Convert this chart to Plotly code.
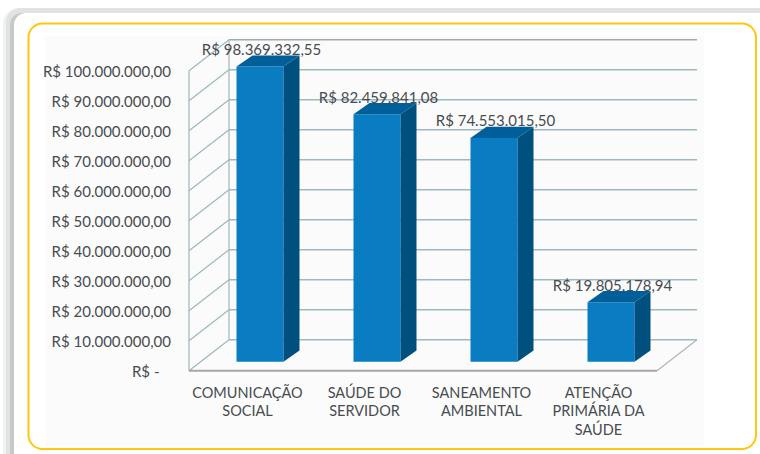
import plotly.graph_objects as go

categories = ["COMUNICAÇÃO<br>SOCIAL", "SAÚDE DO<br>SERVIDOR", "SANEAMENTO<br>AMBIENTAL", "ATENÇÃO<br>PRIMÁRIA DA<br>SAÚDE"]
values = [98369332.55, 82459841.08, 74553015.50, 19805178.94]
value_labels = ["R$ 98.369.332,55", "R$ 82.459.841,08", "R$ 74.553.015,50", "R$ 19.805.178,94"]
y_ticks = [0, 10e6, 20e6, 30e6, 40e6, 50e6, 60e6, 70e6, 80e6, 90e6, 100e6]
y_tick_labels = ["R$ -\u00a0\u00a0\u00a0", "R$ 10.000.000,00", "R$ 20.000.000,00", "R$ 30.000.000,00", "R$ 40.000.000,00",
                 "R$ 50.000.000,00", "R$ 60.000.000,00", "R$ 70.000.000,00", "R$ 80.000.000,00", "R$ 90.000.000,00",
                 "R$ 100.000.000,00"]

W, H = 760, 454
FONT = "Lato"
TEXT = "#484c4f"
# pixel geometry of the drawing box and pseudo-3D projection
PX_L, PX_R, PX_T, PX_B = 185.0, 700.0, 18.0, 375.0
X0_PX, SLOT_PX = 247.5, 117.0       # first category centre on the front plane; category spacing
Y0_PX, PX_PER_UNIT = 370.7, 3.0e-6  # zero on the front plane; pixels per R$


def dx(px):
    return px / SLOT_PX


def dy(px):
    return px / PX_PER_UNIT


x_range = [(PX_L - X0_PX) / SLOT_PX, (PX_R - X0_PX) / SLOT_PX]
y_range = [(Y0_PX - PX_B) / PX_PER_UNIT, (Y0_PX - PX_T) / PX_PER_UNIT]

WALL_X, WALL_Y = dx(40), dy(31)       # depth of the chart box
BAR_X, BAR_Y = dx(12.5), dy(9)        # bar's offset from the front plane
SIDE_X, SIDE_Y = dx(16), dy(11.2)     # bar's own depth
HALF = dx(23.5)                       # half of a bar's width
left = -0.5
right = len(categories) - 0.5


def rounded_shape(x0, y0, x1, y1, r, fill=None, line=None, lw=0):
    # a rounded rectangle expressed in pixel space, on paper-referenced sheets
    fx = lambda v: v / W
    fy = lambda v: 1 - v / H
    k = 0.45 * r
    path = (
        f"M{fx(x0 + r)},{fy(y0)} L{fx(x1 - r)},{fy(y0)} "
        f"C{fx(x1 - k)},{fy(y0)} {fx(x1)},{fy(y0 + k)} {fx(x1)},{fy(y0 + r)} "
        f"L{fx(x1)},{fy(y1 - r)} "
        f"C{fx(x1)},{fy(y1 - k)} {fx(x1 - k)},{fy(y1)} {fx(x1 - r)},{fy(y1)} "
        f"L{fx(x0 + r)},{fy(y1)} "
        f"C{fx(x0 + k)},{fy(y1)} {fx(x0)},{fy(y1 - k)} {fx(x0)},{fy(y1 - r)} "
        f"L{fx(x0)},{fy(y0 + r)} "
        f"C{fx(x0)},{fy(y0 + k)} {fx(x0 + k)},{fy(y0)} {fx(x0 + r)},{fy(y0)} Z"
    )
    return dict(type="path", xref="paper", yref="paper", path=path, layer="below",
                fillcolor=fill or "rgba(0,0,0,0)",
                line=dict(color=line or "rgba(0,0,0,0)", width=lw))


shapes = [
    rounded_shape(3, 9, 790, 470, 14, fill="#f0f1f1"),
    rounded_shape(6, 8, 790, 470, 14, fill="#e1e2e2"),
    rounded_shape(10, 13, 790, 470, 12, fill="#c6c8c9"),
    rounded_shape(14, 13, 790, 470, 12, fill="#ffffff"),
    rounded_shape(28.5, 23.5, 756, 449, 14, fill="#ffffff", line="#fdc80f", lw=2),
    dict(type="rect", xref="paper", yref="paper", x0=45 / W, x1=704 / W, y0=1 - 446 / H, y1=1 - 36 / H,
         layer="below", fillcolor="#fbfbfb", line=dict(width=0)),
]

GRID = "#9db8c0"
for t in y_ticks:
    # back wall and left wall lines for every tick
    shapes.append(dict(type="line", xref="x", yref="y", layer="below",
                       x0=left + WALL_X, x1=right + WALL_X, y0=t + WALL_Y, y1=t + WALL_Y,
                       line=dict(color="#a0a9ad" if t == y_ticks[-1] else GRID, width=1.4)))
    shapes.append(dict(type="line", xref="x", yref="y", layer="below",
                       x0=left, x1=left + WALL_X, y0=t, y1=t + WALL_Y,
                       line=dict(color=GRID, width=1.2)))
# left front edge, left back edge, floor
shapes += [
    dict(type="line", xref="x", yref="y", layer="below", x0=left, x1=left, y0=y_ticks[0], y1=y_ticks[-1],
         line=dict(color="#a3b5bb", width=1.2)),
    dict(type="line", xref="x", yref="y", layer="below", x0=left + WALL_X, x1=left + WALL_X,
         y0=y_ticks[0] + WALL_Y, y1=y_ticks[-1] + WALL_Y, line=dict(color="#a3b5bb", width=1.2)),
    dict(type="line", xref="x", yref="y", layer="below", x0=left, x1=right, y0=0, y1=0,
         line=dict(color="#a2a8aa", width=2)),
    dict(type="line", xref="x", yref="y", layer="below", x0=right, x1=right + WALL_X, y0=0, y1=WALL_Y,
         line=dict(color="#a8b8bc", width=1.2)),
]

idx = list(range(len(categories)))
fig = go.Figure()
# front faces
fig.add_trace(go.Bar(x=[i + BAR_X for i in idx], y=values, base=[BAR_Y] * len(values),
                     width=2 * HALF, marker=dict(color="#0a7cc1", line=dict(width=0)), hoverinfo="skip"))

side_x, side_y, top_x, top_y = [], [], [], []
for i, v in zip(idx, values):
    xr = i + BAR_X + HALF
    xl = i + BAR_X - HALF
    yb = BAR_Y
    yt = BAR_Y + v
    side_x += [xr, xr + SIDE_X, xr + SIDE_X, xr, xr, None]
    side_y += [yt, yt + SIDE_Y, yb + SIDE_Y, yb, yt, None]
    top_x += [xl, xl + SIDE_X, xr + SIDE_X, xr, xl, None]
    top_y += [yt, yt + SIDE_Y, yt + SIDE_Y, yt, yt, None]

fig.add_trace(go.Scatter(x=side_x, y=side_y, mode="lines", fill="toself", fillcolor="#00507f",
                         line=dict(width=0), hoverinfo="skip"))
fig.add_trace(go.Scatter(x=top_x, y=top_y, mode="lines", fill="toself", fillcolor="#005f99",
                         line=dict(width=0), hoverinfo="skip"))
# value labels
fig.add_trace(go.Scatter(x=[i + BAR_X + dx(1.5) for i in idx], y=[BAR_Y + v + dy(15.5) for v in values],
                         mode="text", text=value_labels, textposition="middle center",
                         textfont=dict(family=FONT, size=15, color=TEXT), cliponaxis=False, hoverinfo="skip"))

fig.update_layout(
    width=W, height=H, margin=dict(l=0, r=0, t=0, b=0), showlegend=False, autosize=False,
    paper_bgcolor="#ffffff", plot_bgcolor="rgba(0,0,0,0)", shapes=shapes,
    font=dict(family=FONT, color=TEXT),
    xaxis=dict(domain=[PX_L / W, PX_R / W], range=x_range, tickmode="array", tickvals=idx, ticktext=categories,
               showgrid=False, zeroline=False, showline=False, ticks="", ticklabelstandoff=7, automargin=False,
               tickfont=dict(family=FONT, size=14.5, color=TEXT), tickangle=0),
    yaxis=dict(domain=[1 - PX_B / H, 1 - PX_T / H], range=y_range, tickmode="array",
               tickvals=[t - dy(1.5) for t in y_ticks],
               ticktext=y_tick_labels, showgrid=False, zeroline=False, showline=False, ticks="", ticklabelstandoff=13,
               automargin=False, tickfont=dict(family=FONT, size=15, color=TEXT)),
)

fig.write_html("out.html", config=dict(displayModeBar=False),
               post_script="document.body.style.margin='0';document.body.style.overflow='hidden';")
